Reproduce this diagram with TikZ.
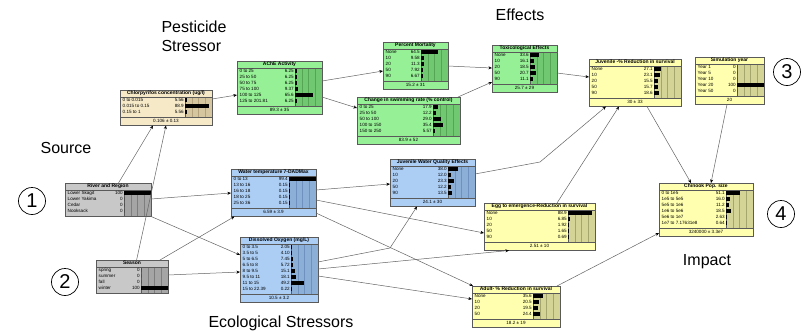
\documentclass[tikz,border=0pt]{standalone}
\usepackage{fontspec}
\setmainfont{Liberation Sans}
\usetikzlibrary{calc,arrows.meta}

\definecolor{tanbody}{RGB}{245,233,200}
\definecolor{tanbar}{RGB}{214,198,160}
\definecolor{tangrid}{RGB}{180,162,125}
\definecolor{greenbody}{RGB}{150,240,150}
\definecolor{greenbar}{RGB}{112,200,112}
\definecolor{greengrid}{RGB}{85,165,85}
\definecolor{bluebody}{RGB}{172,206,245}
\definecolor{bluebar}{RGB}{140,175,215}
\definecolor{bluegrid}{RGB}{110,145,190}
\definecolor{yellowbody}{RGB}{255,255,175}
\definecolor{yellowbar}{RGB}{212,212,150}
\definecolor{yellowgrid}{RGB}{165,165,110}
\definecolor{greybody}{RGB}{200,200,200}
\definecolor{greybar}{RGB}{165,165,165}
\definecolor{greygrid}{RGB}{125,125,125}
\definecolor{bnborder}{RGB}{90,90,90}
\definecolor{linkgray}{RGB}{100,100,100}

\tikzset{
  bnbox/.style={rectangle, draw=bnborder, line width=0.5pt, inner sep=0pt, outer sep=0pt, anchor=north west},
  bnline/.style={draw=bnborder, line width=0.4pt},
  bntitle/.style={inner sep=0pt, font=\fontsize{5}{5}\bfseries, text height=3.4pt, text depth=0.9pt},
  bnrow/.style={inner sep=0pt, font=\fontsize{4.6}{5}\selectfont, text height=3.3pt, text depth=0.9pt},
  link/.style={draw=linkgray, line width=0.5pt, -{Stealth[length=3.6pt,width=3pt,color=black]}},
  heading/.style={inner sep=0pt, font=\fontsize{16}{19}\selectfont, text height=11.5pt, text depth=0pt},
  numcirc/.style={circle, draw, line width=0.7pt, minimum size=27pt, inner sep=0pt, font=\fontsize{20}{20}\selectfont}
}

% belief-bar node: name, x, y, width, colour, title, footer, rows
\newcommand{\bnnode}[8]{%
  \foreach \lab/\val [count=\k] in {#8} {\xdef\bnrows{\k}}%
  \def\bnfoot{#7}%
  \pgfmathsetmacro\bnbot{7+6*\bnrows+2}%
  \ifx\bnfoot\empty \pgfmathsetmacro\bnh{\bnbot+0.5}\else \pgfmathsetmacro\bnh{\bnbot+8.5}\fi
  \node (#1) [bnbox, fill=#5body, minimum width=#4, minimum height=\bnh] at (#2,#3) {};
  \begin{scope}[shift={(#1.north west)}]
    \fill[#5bar] (#4-27,7) rectangle (#4,\bnbot);
    \foreach \q in {0.25,0.5,0.75}
      \draw[#5grid, line width=0.25pt] (#4-27+27*\q,7) -- (#4-27+27*\q,\bnbot);
    \draw[bnline] (#4-27,7) -- (#4-27,\bnbot);
    \draw[bnline] (0,7) -- (#4,7);
    \node[bntitle] at (#4/2,3.6) {#6};
    \foreach \lab/\val [count=\k] in {#8} {
      \node[bnrow, anchor=west] at (2.5,7+6*\k-3) {\lab};
      \node[bnrow, anchor=east] at (#4-28,7+6*\k-3) {\val};
      \fill (#4-27,7+6*\k-4.7) rectangle ++(\val*0.27,3.4);
    }
    \ifx\bnfoot\empty\else
      \draw[bnline] (0,\bnbot) -- (#4,\bnbot);
      \node[bnrow] at (#4/2,\bnbot+4.3) {#7};
    \fi
  \end{scope}}

\begin{document}
\begin{tikzpicture}[x=1pt, y=-1pt]
\useasboundingbox (0,0) rectangle (804,330);
\fill[white] (0,0) rectangle (804,330);

% Source and ecological stressors
\bnnode{river}{65}{183}{86}{grey}{River and Region}{}{Lower Skagit/100, Lower Yakima/0, Cedar/0, Nooksack/0}
\bnnode{season}{96}{260}{72}{grey}{Season}{}{spring/0, summer/0, fall/0, winter/100}
\bnnode{wtemp}{231}{169}{85}{blue}{Water temperature 7-DADMax}{6.59 ± 3.9}{0 to 13/99.4, 13 to 16/0.15, 16 to 18/0.15, 18 to 25/0.15, 25 to 36/0.15}
\bnnode{dox}{240}{237}{78}{blue}{Dissolved Oxygen (mg/L)}{10.5 ± 3.2}{0 to 3.5/2.05, 3.5 to 5/4.10, 5 to 6.5/7.45, 6.5 to 8/5.72, 8 to 9.5/15.1, 9.5 to 11/18.1, 11 to 15/49.2, 15 to 22.39/0.22}
\bnnode{jwq}{390}{159}{85}{blue}{Juvenile Water Quality Effects}{24.1 ± 30}{None/38.0, 10/12.0, 20/23.3, 50/12.2, 90/13.5}

% Pesticide stressor and effects
\bnnode{chlor}{120}{90}{92}{tan}{Chlorpyrifos concentration (ug/l)}{0.106 ± 0.13}{0 to 0.015/5.56, 0.015 to 0.15/88.9, 0.15 to 1/5.56}
\bnnode{ache}{237}{61}{85}{green}{AChE Activity}{89.3 ± 35}{0 to 25/6.25, 25 to 50/6.25, 50 to 75/6.25, 75 to 100/9.37, 100 to 125/65.6, 125 to 201.81/6.25}
\bnnode{mort}{383}{42}{65}{green}{Percent Mortality}{15.2 ± 31}{None/64.5, 10/9.58, 20/11.3, 50/7.92, 90/6.67}
\bnnode{swim}{357}{97}{103}{green}{Change in swimming rate (\% control)}{83.9 ± 52}{0 to 25/17.9, 25 to 50/12.2, 50 to 100/29.0, 100 to 150/35.4, 150 to 250/5.57}
\bnnode{tox}{492}{45}{65}{green}{Toxicological Effects}{25.7 ± 29}{None/33.6, 10/16.1, 20/18.5, 50/20.7, 90/11.1}

% Survival and impact
\bnnode{juv}{589}{59}{92}{yellow}{Juvenile -\% Reduction in survival}{30 ± 33}{None/27.1, 10/23.1, 20/15.5, 50/15.7, 90/18.6}
\bnnode{simyear}{695}{57}{69}{yellow}{Simulation year}{20}{Year 1/0, Year 5/0, Year 10/0, Year 20/100, Year 50/0}
\bnnode{egg}{484}{203}{111}{yellow}{Egg to emergence-Reduction in survival}{2.51 ± 10}{None/88.9, 10/6.85, 20/1.92, 50/1.65, 90/0.69}
\bnnode{adult}{472}{286}{88}{yellow}{Adult- \% Reduction in survival}{18.2 ± 19}{None/35.6, 10/20.5, 20/19.5, 50/24.4}
\bnnode{chinook}{659}{183}{94}{yellow}{Chinook Pop. size}{3240000 ± 3.3e7}{0 to 1e5/51.1, 1e5 to 5e5/16.0, 5e5 to 1e6/11.2, 1e6 to 5e6/18.5, 5e6 to 1e7/2.63, 1e7 to 7.17631e8/0.64}

% Group labels
\node (effects) [heading] at (520,14.25) {Effects};
\node (pesticide) [heading, align=left] at (194,45.5) {Pesticide\\Stressor};
\node (source) [heading] at (66,147.25) {Source};
\node (ecostress) [heading] at (281,322) {Ecological Stressors};
\node (impact) [heading] at (707,260) {Impact};
\node (num1) [numcirc] at (32,201) {1};
\node (num2) [numcirc] at (65,282) {2};
\node (num3) [numcirc] at (787,72) {3};
\node (num4) [numcirc] at (781,214) {4};

% Links
\coordinate (bend1) at (390,248);
\coordinate (bend2) at (540,162);
\draw[link] ($(river.north west)+(53.5,0)$) -- ($(chlor.north west)+(33,35.5)$);
\draw[link] ($(season.north west)+(40.6,0)$) -- ($(chlor.north west)+(46,35.5)$);
\draw[link] ($(chlor.north west)+(92,9)$) -- ($(ache.north west)+(0,34)$);
\draw[link] ($(ache.north west)+(85,20)$) -- ($(mort.north west)+(0,29)$);
\draw[link] ($(ache.north west)+(85,36)$) -- ($(swim.north west)+(0,11)$);
\draw[link] ($(mort.north west)+(65,24)$) -- ($(tox.north west)+(0,23)$);
\draw[link] ($(swim.north west)+(101,0)$) -- ($(tox.north west)+(0,37)$);
\draw[link] ($(tox.north west)+(65,28)$) -- ($(juv.north west)+(0,18)$);
\draw[link] ($(river.north west)+(86,16)$) -- ($(wtemp.north west)+(0,24)$);
\draw[link] ($(river.north west)+(85,33)$) -- ($(dox.north west)+(0,18)$);
\draw[link] ($(season.north west)+(64,0)$) -- ($(wtemp.north west)+(3.5,47.5)$);
\draw[link] ($(season.north west)+(72,15)$) -- ($(dox.north west)+(0,35)$);
\draw[link] ($(wtemp.north west)+(85,21)$) -- ($(jwq.north west)+(0,25)$);
\draw[link] ($(wtemp.north west)+(85,31)$) -- ($(egg.north west)+(0,30)$);
\draw[link] ($(wtemp.north west)+(85,44)$) -- ($(adult.north west)+(1,0)$);
\draw[link] ($(dox.north west)+(78,25)$) -- (bend1) -- ($(jwq.north west)+(27,47.5)$);
\draw[link] ($(dox.north west)+(78,32)$) -- ($(egg.north west)+(25,47.5)$);
\draw[link] ($(dox.north west)+(78,39)$) -- ($(adult.north west)+(0,13)$);
\draw[link] ($(jwq.north west)+(85,15)$) -- (bend2) -- ($(juv.north west)+(17,47.5)$);
\draw[link] ($(egg.north west)+(73,0)$) -- ($(juv.north west)+(30,47.5)$);
\draw[link] ($(juv.north west)+(58,47.5)$) -- ($(chinook.north west)+(32,0)$);
\draw[link] ($(simyear.north west)+(32,47.5)$) -- ($(chinook.north west)+(52,0)$);
\draw[link] ($(adult.north west)+(85,0)$) -- ($(chinook.north west)+(0,50)$);
\end{tikzpicture}
\end{document}
